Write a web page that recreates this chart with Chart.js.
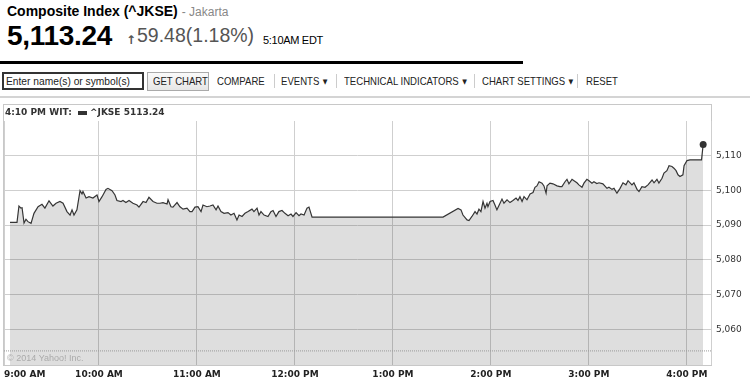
<!DOCTYPE html>
<html>
<head>
<meta charset="utf-8">
<script src="https://cdn.jsdelivr.net/npm/chart.js@4/dist/chart.umd.min.js"></script>
<style>
  body { margin: 0; width: 750px; height: 380px; background: #fff; position: relative; overflow: hidden; font-family: "Liberation Sans", Arial, sans-serif; }
  .abs { position: absolute; white-space: nowrap; }
  #title { left: 7px; top: 3px; font-size: 14px; font-weight: bold; color: #000; }
  #title span { font-weight: normal; font-size: 12px; color: #888; margin-left: 4px; }
  #price { left: 7px; top: 20px; font-size: 28px; font-weight: bold; color: #000; letter-spacing: -0.3px; }
  #arrow { left: 126px; top: 33px; font-size: 12px; font-weight: bold; color: #555; font-family: "DejaVu Sans", sans-serif; }
  #change { left: 137px; top: 24px; font-size: 19.5px; color: #555; }
  #time { left: 263px; top: 34px; font-size: 11px; color: #000; letter-spacing: -0.3px; }
  #bar { left: 0; top: 61px; width: 523px; height: 3px; background: #000; }
  #search { left: 2px; top: 72px; width: 138px; height: 14px; border: 2px solid #333; color: #222; padding: 0; }
  #search span { position: absolute; left: 2px; top: 0; font-size: 11px; line-height: 14px; transform: scaleX(0.93); transform-origin: 0 0; }
  #getchart { left: 147px; top: 72px; width: 60px; height: 17px; border: 1px solid #aaa; background: linear-gradient(#fafafa, #e6e6e6); }
  #getchart span { position: absolute; left: 5px; top: 0; font-size: 11px; line-height: 17px; color: #222; transform: scaleX(0.87); transform-origin: 0 0; }
  .menu { top: 75px; font-size: 11px; color: #222; transform: scaleX(0.87); transform-origin: 0 0; }
  .sep { top: 74px; width: 1px; height: 14px; background: #ccc; }
  .tri { font-size: 7px; vertical-align: 1px; margin-left: 4px; font-family: "DejaVu Sans", sans-serif; }
  #rule { left: 0; top: 96px; width: 750px; height: 2px; background: #d4d4d4; }
  #wrap { position: absolute; left: 0; top: 100px; width: 750px; height: 280px; }
</style>
</head>
<body>
<div class="abs" id="title">Composite Index (^JKSE)<span>- Jakarta</span></div>
<div class="abs" id="price">5,113.24</div>
<div class="abs" id="arrow">&#8593;</div>
<div class="abs" id="change">59.48(1.18%)</div>
<div class="abs" id="time">5:10AM EDT</div>
<div class="abs" id="bar"></div>
<div class="abs" id="search"><span>Enter name(s) or symbol(s)</span></div>
<div class="abs" id="getchart"><span>GET CHART</span></div>
<div class="abs menu" style="left:217px">COMPARE</div>
<div class="abs sep" style="left:274px"></div>
<div class="abs menu" style="left:281px">EVENTS<span class="tri">&#9660;</span></div>
<div class="abs sep" style="left:336px"></div>
<div class="abs menu" style="left:344px">TECHNICAL INDICATORS<span class="tri">&#9660;</span></div>
<div class="abs sep" style="left:474px"></div>
<div class="abs menu" style="left:482px">CHART SETTINGS<span class="tri">&#9660;</span></div>
<div class="abs sep" style="left:577px"></div>
<div class="abs menu" style="left:586px">RESET</div>
<div class="abs" id="rule"></div>
<div id="wrap"><canvas id="chart" width="750" height="280"></canvas></div>
<script>
// minutes after 9:00 AM
const times = [
    5.5, 9.8, 11.0, 12.2, 12.9, 14.1, 15.3, 16.5, 18.4, 20.2, 22.7, 25.1, 26.9, 29.4, 31.8, 33.7, 36.1, 38.0, 40.4, 42.3,
    43.5, 44.7, 46.5, 48.4, 49.6, 50.2, 52.1, 53.9, 56.3, 58.8, 60.0, 61.9, 64.3, 65.5, 68.0, 69.8, 71.0, 73.5, 74.7, 76.5,
    78.4, 80.8, 83.3, 84.5, 87.0, 88.8, 90.6, 93.1, 95.5, 97.4, 99.2, 101.7, 102.3, 104.1, 105.3, 107.8, 109.6, 111.5, 113.9, 115.7,
    117.0, 118.8, 120.6, 122.5, 123.7, 126.1, 128.0, 129.8, 131.7, 132.9, 134.7, 136.6, 139.0, 140.8, 142.7, 144.5, 145.8, 147.6, 149.4, 151.3,
    153.7, 154.9, 156.8, 158.0, 159.2, 161.1, 163.5, 165.3, 166.6, 168.4, 170.2, 172.1, 173.9, 175.8, 177.6, 178.8, 180.7, 182.5, 183.7, 185.6,
    187.4, 188.6, 190.5, 270.7,
    279.9, 281.7, 282.9, 285.4, 286.6, 288.4, 290.3, 291.5, 292.7, 293.9, 295.2, 296.4, 297.6, 298.2, 299.5, 301.3, 302.5, 303.7, 305.6, 306.8,
    308.0, 309.9, 311.7, 313.5, 315.4, 316.6, 317.8, 319.1, 320.3, 322.1, 324.0, 325.8, 327.0, 328.2, 329.5, 331.3, 332.5, 333.8, 334.4, 336.2,
    338.0, 340.5, 342.3, 343.5, 345.4, 346.6, 347.8, 349.7, 350.9, 352.7, 353.9, 355.8, 357.0, 358.8, 360.1, 361.9, 363.1, 364.9, 366.2,
    368.6, 371.1, 372.3, 374.2, 375.4, 377.2, 379.1, 380.9, 382.7, 384.0, 386.4, 387.6, 389.5, 390.7, 392.5, 394.4, 396.2, 398.7, 399.9, 401.7,
    402.9, 404.8, 406.0, 407.8, 409.1, 410.9, 412.1, 413.4, 414.6, 415.8, 417.6, 418.3, 420.1, 421.9, 429.0, 430.0
];
const prices = [
    5090.8, 5090.8, 5095.5, 5094.9, 5095.0, 5090.6, 5091.7, 5091.0, 5090.5, 5093.4, 5095.3, 5096.0, 5094.9, 5097.0, 5095.5, 5096.3, 5096.8, 5096.3, 5093.9, 5092.9,
    5094.4, 5092.9, 5094.4, 5099.9, 5099.0, 5099.7, 5097.8, 5098.2, 5097.8, 5098.7, 5096.8, 5098.2, 5100.3, 5100.6, 5099.9, 5098.7, 5097.1, 5096.8, 5097.1, 5096.5,
    5097.1, 5096.3, 5095.8, 5095.2, 5096.8, 5096.5, 5098.0, 5096.8, 5096.3, 5096.3, 5096.5, 5096.1, 5097.3, 5095.3, 5095.2, 5096.5, 5095.3, 5094.6, 5094.9, 5093.9,
    5093.9, 5095.2, 5095.3, 5093.9, 5095.8, 5095.3, 5095.5, 5095.8, 5094.4, 5095.5, 5093.9, 5093.4, 5093.6, 5092.9, 5093.4, 5091.5, 5092.9, 5092.5, 5093.4, 5093.9,
    5094.6, 5093.9, 5094.9, 5092.9, 5093.9, 5092.9, 5092.5, 5093.9, 5094.2, 5092.5, 5093.9, 5094.2, 5093.4, 5092.7, 5093.2, 5092.5, 5093.6, 5092.7, 5093.2, 5092.9,
    5094.9, 5095.2, 5092.3, 5092.3,
    5094.8, 5094.4, 5092.9, 5091.5, 5091.3, 5092.5, 5093.9, 5093.2, 5094.6, 5093.9, 5096.8, 5094.9, 5096.3, 5095.3, 5096.8, 5097.1, 5095.8, 5094.4, 5096.3, 5097.5,
    5096.3, 5097.3, 5096.5, 5097.1, 5097.8, 5097.1, 5098.2, 5096.8, 5098.2, 5097.3, 5099.0, 5099.4, 5100.9, 5101.3, 5102.5, 5102.1, 5101.3, 5099.2, 5101.3, 5102.1,
    5101.9, 5101.3, 5101.1, 5101.1, 5102.5, 5103.2, 5101.9, 5103.2, 5102.8, 5102.2, 5101.6, 5100.9, 5102.1, 5103.2, 5102.8, 5102.1, 5102.5, 5102.0, 5102.2,
    5101.9, 5100.6, 5100.9, 5100.3, 5100.6, 5099.2, 5100.6, 5102.2, 5101.6, 5102.8, 5101.6, 5102.2, 5100.3, 5099.7, 5101.1, 5100.9, 5101.6, 5103.0, 5102.2, 5103.2,
    5102.1, 5103.5, 5105.0, 5105.7, 5107.1, 5106.9, 5106.4, 5105.7, 5104.5, 5104.0, 5104.5, 5107.1, 5108.6, 5108.8, 5108.8, 5113.24
];
const prevClose = 5053.76;
const yTicks = [5060, 5070, 5080, 5090, 5100, 5110];
const hourTicks = [60, 120, 180, 240, 300, 360, 420];
const hourLabels = ['10:00 AM', '11:00 AM', '12:00 PM', '1:00 PM', '2:00 PM', '3:00 PM', '4:00 PM'];
const firstLabel = '9:00 AM';
const legendTime = '4:10 PM WIT:';
const legendText = '^JKSE 5113.24';

const xMin = 1.84, xMax = 434.8;
const yMin = 5049.7, yMax = 5120;

const points = times.map((t, i) => ({ x: t, y: prices[i] }));

// box border, legend row and copyright
const frame = {
    id: 'frame',
    beforeDraw(chart) {
        const { ctx, chartArea: a } = chart;
        ctx.save();
        ctx.strokeStyle = '#c8c8c8';
        ctx.lineWidth = 1;
        ctx.strokeRect(3.5, 4.5, a.right - 3, a.bottom - 4);
        ctx.restore();
    },
    afterDraw(chart) {
        const { ctx, chartArea: a } = chart;
        ctx.save();
        ctx.font = 'bold 9px "DejaVu Sans"';
        ctx.fillStyle = '#333';
        ctx.textBaseline = 'middle';
        ctx.fillText(legendTime, 5, 12.5);
        ctx.fillRect(78, 11, 9, 4);
        ctx.fillText(legendText, 90, 12.5);
        ctx.font = '9px "Liberation Sans"';
        ctx.fillStyle = '#aaa';
        ctx.textBaseline = 'alphabetic';
        ctx.fillText('\u00a9 2014 Yahoo! Inc.', a.left + 3, a.bottom - 4);
        ctx.restore();
    }
};

new Chart(document.getElementById('chart').getContext('2d'), {
    type: 'line',
    data: {
        datasets: [{
            data: points,
            borderColor: '#353535',
            borderWidth: 1.2,
            backgroundColor: 'rgba(0,0,0,0.13)',
            fill: 'start',
            tension: 0,
            pointRadius: ctx => ctx.dataIndex === points.length - 1 ? 3.5 : 0,
            pointBackgroundColor: '#333',
            pointBorderWidth: 0,
            order: 1
        }, {
            data: [{ x: xMin, y: prevClose }, { x: xMax, y: prevClose }],
            borderColor: '#999',
            borderWidth: 1,
            borderDash: [1, 1],
            pointRadius: 0,
            fill: false,
            order: 0
        }]
    },
    options: {
        responsive: false,
        animation: false,
        layout: { padding: { left: 4, top: 21, right: 0, bottom: 0 } },
        plugins: { legend: { display: false }, tooltip: { enabled: false } },
        scales: {
            x: {
                type: 'linear',
                min: xMin,
                max: xMax,
                afterBuildTicks: s => { s.ticks = [{ value: xMin }, ...hourTicks.map(v => ({ value: v })), { value: xMax }]; },
                afterFit: s => { s.height = 15; },
                grid: { color: '#cfcfcf', drawTicks: false },
                border: { display: false },
                ticks: {
                    align: 'inner',
                    padding: 4,
                    maxRotation: 0,
                    autoSkip: false,
                    color: '#222',
                    font: { family: 'DejaVu Sans', size: 9, weight: 'bold' },
                    callback: (v, i) => {
                        if (i === 0) return firstLabel;
                        const k = hourTicks.indexOf(v);
                        return k >= 0 ? hourLabels[k] : '';
                    }
                }
            },
            y: {
                position: 'right',
                min: yMin,
                max: yMax,
                afterBuildTicks: s => { s.ticks = yTicks.map(v => ({ value: v })); },
                afterFit: s => { s.width = 39; },
                grid: { color: '#cfcfcf', drawTicks: false },
                border: { display: false },
                ticks: {
                    padding: 5,
                    color: '#333',
                    font: { family: 'DejaVu Sans', size: 9 },
                    callback: v => v.toLocaleString('en-US')
                }
            }
        }
    },
    plugins: [frame]
});
</script>
</body>
</html>
